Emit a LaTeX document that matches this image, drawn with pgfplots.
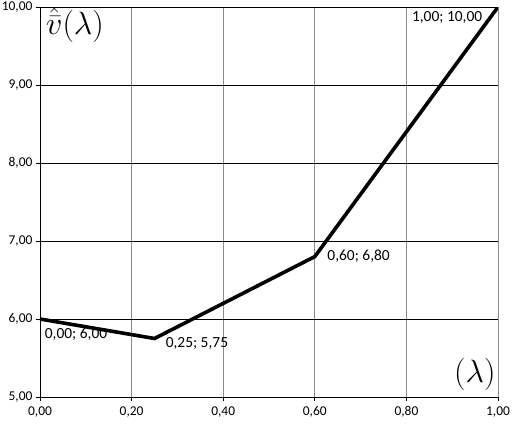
\documentclass[border=0pt]{standalone}
\usepackage{pgfplots}
\pgfplotsset{compat=1.18}
\usepackage{fontspec}
\setmainfont{Carlito}
\begin{document}
\begin{tikzpicture}
\path[use as bounding box] (-40bp,-33bp) rectangle (479bp,397bp);
\begin{axis}[
  at={(0,0)}, anchor=south west,
  scale only axis, width=458bp, height=390bp,
  xmin=0, xmax=1, ymin=5, ymax=10,
  xtick={0,0.2,0.4,0.6,0.8,1}, ytick={5,6,7,8,9,10},
  axis line style={draw=none},
  axis x line*=bottom, axis y line*=left,
  grid=major,
  x grid style={draw=gray!90, line width=0.8pt},
  y grid style={draw=black, line width=0.8pt},
  tick align=outside, major tick length=4bp,
  tick style={black, line width=0.8pt},
  xticklabel style={font=\fontsize{13.5}{15}\selectfont, yshift=-2bp},
  yticklabel style={font=\fontsize{13.5}{15}\selectfont, xshift=0bp},
  /pgf/number format/assume math mode=true,
  /pgf/number format/.cd, fixed, fixed zerofill, precision=2, use comma,
]
\draw[black, line width=0.8pt] (axis cs:0,5) -- (axis cs:0,10);
\draw[black, line width=0.8pt] (axis cs:0,5) -- (axis cs:1,5);
\addplot[black, line width=3.6bp, line join=miter, mark=none] coordinates {
  (0,6) (0.25,5.75) (0.6,6.8) (1,10)
};
\node[anchor=north west, font=\fontsize{15.5}{17}\selectfont, inner sep=1pt] at (axis cs:0.008,5.90) {0,00; 6,00};
\node[anchor=west, font=\fontsize{15.5}{17}\selectfont, inner sep=1pt] at (axis cs:0.272,5.69) {0,25; 5,75};
\node[anchor=west, font=\fontsize{15.5}{17}\selectfont, inner sep=1pt] at (axis cs:0.625,6.81) {0,60; 6,80};
\node[anchor=east, font=\fontsize{15.5}{17}\selectfont, inner sep=1pt] at (axis cs:0.968,9.86) {1,00; 10,00};
\node[anchor=base west, font=\fontsize{28}{30}\selectfont, inner sep=0pt] at (axis cs:0.013,9.65) {\scalebox{1.3}{$\hat{\bar{v}}(\lambda)$}};
\node[anchor=base west, font=\fontsize{28}{30}\selectfont, inner sep=0pt] at (axis cs:0.904,5.19) {\scalebox{1.3}{$(\lambda)$}};
\end{axis}
\end{tikzpicture}
\end{document}
